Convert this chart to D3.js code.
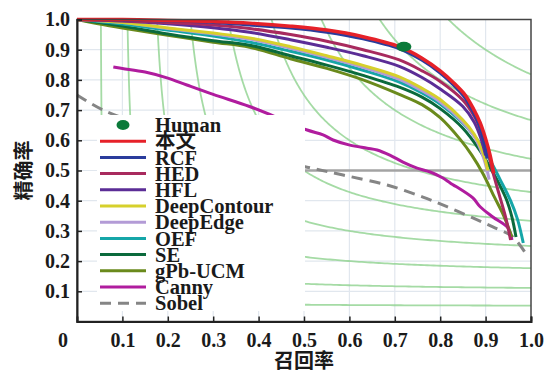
<!DOCTYPE html>
<html>
<head>
<meta charset="utf-8">
<script src="https://cdn.jsdelivr.net/npm/d3@7"></script>
<style>
    body { margin: 0; background: #fff; }
    svg text { font-family: "Liberation Serif", "Noto Sans CJK SC", serif; font-weight: bold; fill: #1a1a1a; }
</style>
</head>
<body>
<div id="chart"></div>
<script>
// recall / precision pairs
const ours = [[0,1],[0.1,1.0],[0.2,0.997],[0.3,0.993],[0.38,0.988],[0.47,0.978],[0.55,0.965],[0.63,0.943],[0.71,0.91],[0.76,0.872],[0.8,0.83],[0.83,0.79],[0.855,0.75],[0.873,0.705],[0.888,0.658],[0.9,0.605],[0.91,0.55],[0.918,0.49]];
const rcf = [[0,1],[0.1,0.998],[0.2,0.995],[0.3,0.99],[0.38,0.982],[0.47,0.972],[0.55,0.958],[0.63,0.936],[0.71,0.903],[0.76,0.865],[0.8,0.823],[0.83,0.782],[0.855,0.74],[0.872,0.695],[0.886,0.648],[0.896,0.597],[0.903,0.54]];
const hed = [[0,1],[0.1,0.996],[0.2,0.99],[0.3,0.982],[0.38,0.97],[0.47,0.95],[0.55,0.928],[0.63,0.9],[0.71,0.866],[0.76,0.83],[0.8,0.795],[0.85,0.733],[0.875,0.68],[0.893,0.62],[0.905,0.565],[0.915,0.5],[0.93,0.42],[0.945,0.34],[0.955,0.27]];
const hfl = [[0,1],[0.1,0.995],[0.2,0.986],[0.3,0.973],[0.38,0.958],[0.47,0.933],[0.55,0.908],[0.63,0.88],[0.71,0.845],[0.76,0.808],[0.8,0.77],[0.85,0.712],[0.875,0.66],[0.89,0.605],[0.9,0.55]];
const deepContour = [[0,1],[0.1,0.99],[0.2,0.972],[0.3,0.955],[0.38,0.939],[0.47,0.91],[0.55,0.88],[0.63,0.848],[0.71,0.81],[0.76,0.772],[0.8,0.735],[0.85,0.667],[0.875,0.62],[0.893,0.565],[0.905,0.5]];
const deepEdge = [[0,1],[0.1,0.99],[0.2,0.97],[0.3,0.952],[0.38,0.935],[0.47,0.905],[0.55,0.875],[0.63,0.842],[0.71,0.802],[0.76,0.764],[0.8,0.727],[0.85,0.66],[0.878,0.605],[0.896,0.54],[0.908,0.47]];
const oef = [[0,1],[0.1,0.985],[0.2,0.965],[0.3,0.945],[0.38,0.925],[0.47,0.895],[0.55,0.866],[0.63,0.832],[0.71,0.793],[0.76,0.757],[0.8,0.72],[0.85,0.657],[0.875,0.615],[0.894,0.575],[0.915,0.52],[0.932,0.47],[0.955,0.4],[0.97,0.34],[0.983,0.26]];
const se = [[0,1],[0.05,0.99],[0.1,0.978],[0.2,0.952],[0.3,0.93],[0.38,0.915],[0.47,0.88],[0.55,0.849],[0.63,0.815],[0.71,0.776],[0.76,0.743],[0.8,0.705],[0.85,0.64],[0.888,0.565],[0.91,0.51],[0.93,0.455],[0.947,0.4],[0.958,0.346],[0.967,0.28]];
const gpbUcm = [[0,1],[0.05,0.985],[0.1,0.972],[0.2,0.948],[0.3,0.925],[0.38,0.908],[0.47,0.87],[0.55,0.838],[0.63,0.8],[0.71,0.752],[0.76,0.718],[0.8,0.675],[0.844,0.603],[0.87,0.55],[0.894,0.49],[0.92,0.41],[0.94,0.35],[0.958,0.28]];
const canny = [[0.08,0.843],[0.1,0.838],[0.15,0.826],[0.2,0.806],[0.242,0.783],[0.3,0.752],[0.38,0.712],[0.45,0.67],[0.507,0.634],[0.542,0.618],[0.564,0.601],[0.601,0.584],[0.639,0.574],[0.661,0.568],[0.689,0.551],[0.718,0.528],[0.749,0.508],[0.778,0.495],[0.806,0.475],[0.822,0.459],[0.872,0.409],[0.888,0.38],[0.916,0.346],[0.949,0.31],[0.958,0.27]];
const sobel = [[0,0.75],[0.066,0.694],[0.2,0.63],[0.35,0.565],[0.507,0.511],[0.586,0.485],[0.683,0.452],[0.762,0.412],[0.815,0.38],[0.872,0.343],[0.916,0.313],[0.96,0.28],[0.993,0.214]];
const human = [0.72, 0.91];

const names = ['本文', 'RCF', 'HED', 'HFL', 'DeepContour', 'DeepEdge', 'OEF', 'SE', 'gPb-UCM', 'Canny', 'Sobel'];
const curves = [ours, rcf, hed, hfl, deepContour, deepEdge, oef, se, gpbUcm, canny, sobel];
const colors = ['#e62129', '#2a3c9c', '#a82a5e', '#5b2d96', '#d6d02c', '#b39bd6', '#15a6a8', '#0b6a3c', '#6a8a1c', '#b01c9e', '#858585'];

const tickVals = [0.1, 0.2, 0.3, 0.4, 0.5, 0.6, 0.7, 0.8, 0.9, 1.0];
const isoF = [0.1, 0.2, 0.3, 0.4, 0.5, 0.6, 0.7, 0.8, 0.9];

// setting param
const W = 545, H = 374;
const margin = {top: 19.5, right: 14, bottom: 52.5, left: 77};
const w = W - margin.left - margin.right;
const h = H - margin.top - margin.bottom;

const svg = d3.select('#chart').append('svg')
    .attr('width', W)
    .attr('height', H);

const g = svg.append('g').attr('transform', `translate(${margin.left},${margin.top})`);

const x = d3.scaleLinear().domain([0, 1]).range([0, w]);
const y = d3.scaleLinear().domain([0, 1]).range([h, 0]);

// grid
g.append('g').selectAll('line')
    .data(tickVals.slice(0, 9))
    .enter().append('line')
    .attr('x1', d => x(d)).attr('x2', d => x(d))
    .attr('y1', 0).attr('y2', h)
    .attr('stroke', '#e1e7ee').attr('stroke-width', 1.2);
g.append('g').selectAll('line')
    .data(tickVals.slice(0, 9))
    .enter().append('line')
    .attr('y1', d => y(d)).attr('y2', d => y(d))
    .attr('x1', 0).attr('x2', w)
    .attr('stroke', '#e1e7ee').attr('stroke-width', 1.2);

// iso-F contours
const line = d3.line().x(d => x(d[0])).y(d => y(d[1]));
g.append('g').selectAll('path')
    .data(isoF)
    .enter().append('path')
    .attr('d', f => {
        const r0 = f / (2 - f);
        const pts = d3.range(0, 201).map(i => {
            const r = r0 + (1 - r0) * Math.pow(i / 200, 2);
            return [r, f * r / (2 * r - f)];
        });
        return line(pts);
    })
    .attr('fill', 'none')
    .attr('stroke', '#8fd28f')
    .attr('stroke-opacity', 0.8)
    .attr('stroke-width', 1.8);

// P = 0.5 reference
g.append('line')
    .attr('x1', x(0.5)).attr('x2', x(1))
    .attr('y1', y(0.5)).attr('y2', y(0.5))
    .attr('stroke', '#a3a3a3').attr('stroke-width', 2.5);

const curveLine = d3.line()
    .x(d => x(d[0])).y(d => y(d[1]))
    .curve(d3.curveCatmullRom.alpha(0.5));

// draw back to front so 本文 sits on top
const order = d3.range(curves.length).reverse();
g.append('g').selectAll('path')
    .data(order)
    .enter().append('path')
    .attr('d', i => curveLine(curves[i]))
    .attr('fill', 'none')
    .attr('stroke', i => colors[i])
    .attr('stroke-width', i => i === 0 ? 3.5 : 3)
    .attr('stroke-dasharray', i => names[i] === 'Sobel' ? '11,7' : null);

g.append('ellipse')
    .attr('cx', x(human[0])).attr('cy', y(human[1]))
    .attr('rx', 7.5).attr('ry', 5)
    .attr('fill', '#0b7a3a');

// legend
const lx = 20, ly = 95.5, rowH = 16.2;
const legend = g.append('g').attr('transform', `translate(${lx},${ly})`);
legend.append('rect')
    .attr('width', 208).attr('height', 196)
    .attr('fill', '#fff');
legend.append('ellipse')
    .attr('cx', 26).attr('cy', 10)
    .attr('rx', 6.5).attr('ry', 5)
    .attr('fill', '#0b7a3a');
legend.append('text')
    .attr('x', 58).attr('y', 10).attr('dy', '0.35em')
    .style('font-size', '20.5px')
    .text('Human');
const rows = legend.selectAll('.row')
    .data(names)
    .enter().append('g')
    .attr('class', 'row')
    .attr('transform', (d, i) => `translate(0,${10 + (i + 1) * rowH})`);
rows.append('line')
    .attr('x1', 3).attr('x2', 49)
    .attr('stroke', (d, i) => colors[i])
    .attr('stroke-width', 3)
    .attr('stroke-dasharray', d => d === 'Sobel' ? '11,7' : null);
rows.append('text')
    .attr('x', 58).attr('dy', '0.35em')
    .style('font-size', '20.5px')
    .text(d => d);

// frame + axes
g.append('rect')
    .attr('width', w).attr('height', h)
    .attr('fill', 'none')
    .attr('stroke', '#444').attr('stroke-width', 1.5);

const fmt = d3.format('.1f');
const xAxis = g.append('g')
    .attr('transform', `translate(0,${h})`)
    .call(d3.axisBottom(x).tickValues(tickVals).tickFormat(fmt).tickSize(-5).tickPadding(11.5));
const yAxis = g.append('g')
    .call(d3.axisLeft(y).tickValues(tickVals).tickFormat(fmt).tickSize(-5).tickPadding(7));

[xAxis, yAxis].forEach(a => {
    a.select('.domain').attr('stroke', '#222').attr('stroke-width', 2);
    a.selectAll('.tick line').attr('stroke', '#222').attr('stroke-width', 1.5);
    a.selectAll('.tick text')
        .style('font-size', '20px')
        .style('font-family', '"Liberation Serif", serif')
        .attr('fill', '#1a1a1a');
});

g.append('text')
    .attr('x', -14).attr('y', h + 11.5).attr('dy', '0.71em')
    .attr('text-anchor', 'middle')
    .style('font-size', '20px')
    .text('0');

svg.append('text')
    .attr('x', margin.left + w / 2).attr('y', 368)
    .attr('text-anchor', 'middle')
    .style('font-size', '20px')
    .text('召回率');

svg.append('text')
    .attr('transform', `translate(31,${margin.top + h / 2}) rotate(-90)`)
    .attr('text-anchor', 'middle')
    .style('font-size', '20px')
    .text('精确率');
</script>
</body>
</html>
